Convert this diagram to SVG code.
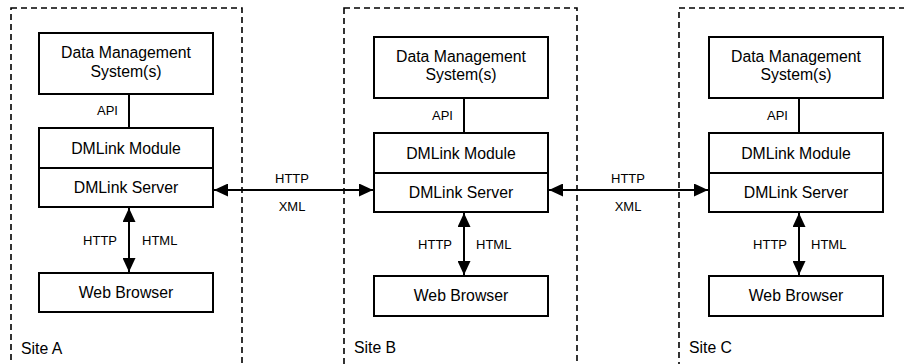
<svg xmlns="http://www.w3.org/2000/svg" width="904" height="364" viewBox="0 0 904 364">
<style>
text{font-family:"Liberation Sans",Arial,sans-serif;fill:#000}
.box{fill:#fff;stroke:#000;stroke-width:2}
.site{fill:none;stroke:#000;stroke-width:1.6;stroke-dasharray:6,4}
.big{font-size:15.8px;text-anchor:middle}
.lbl{font-size:15.8px}
.sm{font-size:13px}
.mid{text-anchor:middle}
.end{text-anchor:end}
.ln{stroke:#000;stroke-width:2;fill:none}
.arr{stroke:#000;stroke-width:2;fill:none;marker-start:url(#ah);marker-end:url(#ah)}
</style>
<defs>
<marker id="ah" markerUnits="userSpaceOnUse" markerWidth="14" markerHeight="13" refX="14" refY="6.5" orient="auto-start-reverse" viewBox="0 0 14 13">
<path d="M0,0 L14,6.5 L0,13 z" fill="#000"/>
</marker>
</defs>
<rect width="904" height="364" fill="#fff"/>
<g id="siteA">
<rect class="site" x="11" y="8" width="231" height="370"/>
<text class="lbl" x="21" y="354">Site A</text>
</g>
<g id="siteB">
<rect class="site" x="344" y="8" width="233" height="370"/>
<text class="lbl" x="354" y="353">Site B</text>
</g>
<g id="siteC">
<rect class="site" x="679" y="8" width="240" height="370"/>
<text class="lbl" x="689" y="353">Site C</text>
</g>
<g id="dmsA"><rect class="box" x="39" y="33" width="174" height="61"/><text class="big" x="126" y="58.3">Data Management</text><text class="big" x="126" y="76.7">System(s)</text></g>
<g id="moduleA"><rect class="box" x="39" y="128" width="174" height="40"/><text class="big" x="126" y="154.3">DMLink Module</text></g>
<g id="serverA"><rect class="box" x="39" y="168" width="174" height="39"/><text class="big" x="126" y="193.3">DMLink Server</text></g>
<g id="browserA"><rect class="box" x="39" y="273" width="174" height="39"/><text class="big" x="126" y="297.5">Web Browser</text></g>
<g id="dmsB"><rect class="box" x="374" y="37" width="174" height="61"/><text class="big" x="461" y="61.7">Data Management</text><text class="big" x="461" y="80">System(s)</text></g>
<g id="moduleB"><rect class="box" x="374" y="133" width="174" height="40"/><text class="big" x="461" y="158.5">DMLink Module</text></g>
<g id="serverB"><rect class="box" x="374" y="173" width="174" height="39"/><text class="big" x="461" y="197.5">DMLink Server</text></g>
<g id="browserB"><rect class="box" x="374" y="276" width="174" height="40"/><text class="big" x="461" y="301">Web Browser</text></g>
<g id="dmsC"><rect class="box" x="709" y="37" width="174" height="61"/><text class="big" x="796" y="61.7">Data Management</text><text class="big" x="796" y="80">System(s)</text></g>
<g id="moduleC"><rect class="box" x="709" y="133" width="174" height="40"/><text class="big" x="796" y="158.5">DMLink Module</text></g>
<g id="serverC"><rect class="box" x="709" y="173" width="174" height="39"/><text class="big" x="796" y="197.5">DMLink Server</text></g>
<g id="browserC"><rect class="box" x="709" y="276" width="174" height="40"/><text class="big" x="796" y="301">Web Browser</text></g>
<g id="connectors">
<line class="ln" x1="129" y1="94" x2="129" y2="128"/>
<line class="ln" x1="464" y1="98" x2="464" y2="133"/>
<line class="ln" x1="799" y1="98" x2="799" y2="133"/>
<text class="sm end" x="118" y="115">API</text>
<text class="sm end" x="453" y="120">API</text>
<text class="sm end" x="788" y="120">API</text>
<line class="arr" x1="129" y1="208" x2="129" y2="272"/>
<line class="arr" x1="464" y1="213" x2="464" y2="275"/>
<line class="arr" x1="799" y1="213" x2="799" y2="275"/>
<text class="sm end" x="117" y="245">HTTP</text>
<text class="sm" x="142" y="245">HTML</text>
<text class="sm end" x="452" y="249">HTTP</text>
<text class="sm" x="476" y="249">HTML</text>
<text class="sm end" x="787" y="249">HTTP</text>
<text class="sm" x="811" y="249">HTML</text>
<line class="arr" x1="214" y1="190" x2="373" y2="190"/>
<line class="arr" x1="549" y1="190" x2="708" y2="190"/>
<text class="sm mid" x="292" y="182.7">HTTP</text>
<text class="sm mid" x="292" y="210.7">XML</text>
<text class="sm mid" x="628" y="182.7">HTTP</text>
<text class="sm mid" x="628" y="210.7">XML</text>
</g>
</svg>
